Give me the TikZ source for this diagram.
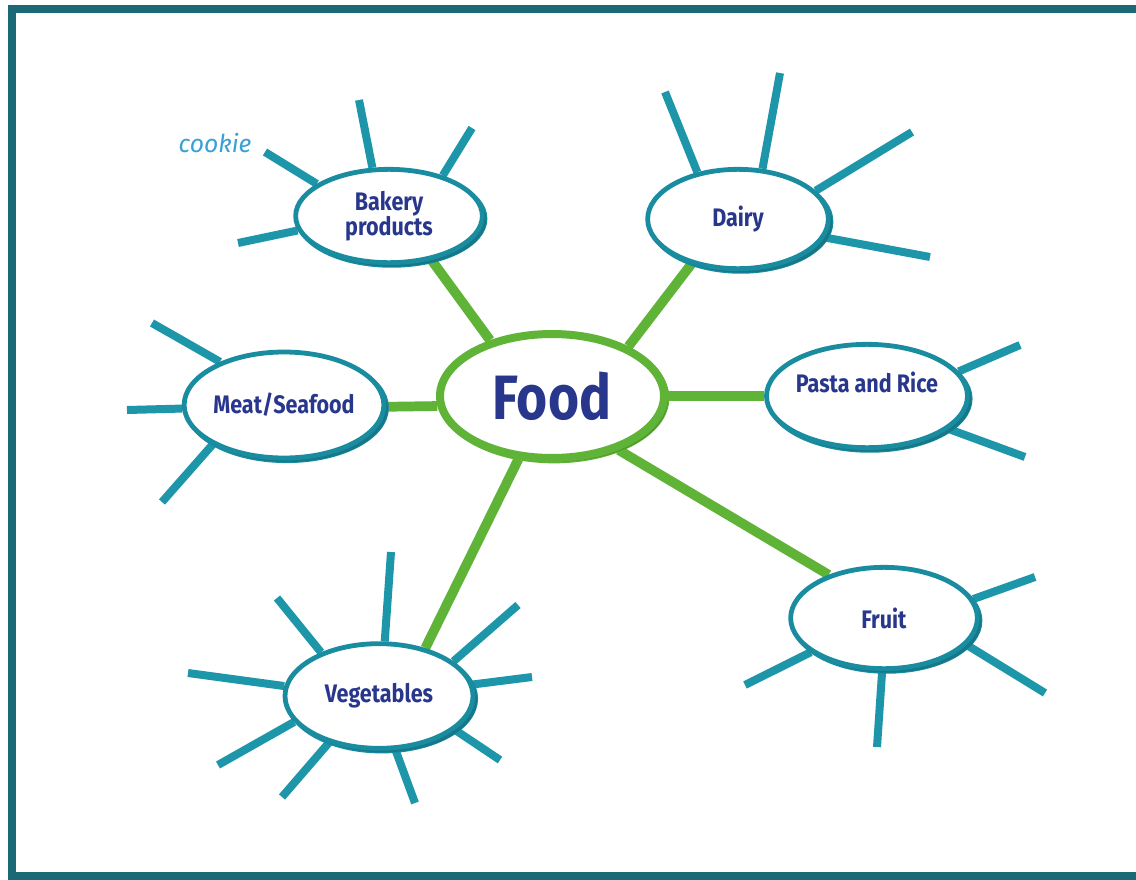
\documentclass[tikz,border=0pt]{standalone}
\usepackage{fontspec}
\setmainfont{Fira Sans}
\newfontfamily\labfont[FakeStretch=0.85]{Fira Sans}
\newfontfamily\cookiefont{Fira Sans}
\usetikzlibrary{shapes.geometric,shadows,backgrounds}
\definecolor{frameC}{RGB}{27,104,118}
\definecolor{spokeC}{RGB}{30,150,170}
\definecolor{rimC}{RGB}{25,140,160}
\definecolor{greenC}{RGB}{95,180,55}
\definecolor{navyC}{RGB}{40,55,140}
\definecolor{cookieC}{RGB}{55,160,215}
\tikzset{
  bubble/.style={ellipse, draw=rimC, line width=3.6pt, fill=white, text=navyC,
    font=\labfont\bfseries\fontsize{19}{19}\selectfont, align=center, inner sep=0pt,
    preaction={draw=rimC, line width=3.6pt, transform canvas={xshift=2pt,yshift=-2pt}},
    drop shadow={shadow xshift=3pt, shadow yshift=-3pt, opacity=0.15, fill=black}},
  hub/.style={ellipse, draw=greenC, line width=6pt, fill=white, text=navyC,
    font=\labfont\bfseries\fontsize{47}{47}\selectfont, inner sep=0pt,
    preaction={draw=greenC, line width=5pt, transform canvas={xshift=1.5pt,yshift=-1.5pt}},
    drop shadow={shadow xshift=3pt, shadow yshift=-3pt, opacity=0.15, fill=black}},
  spoke/.style={draw=spokeC, line width=6pt},
  link/.style={draw=greenC, line width=7.3pt},
  frame/.style={draw=frameC, line width=6pt},
  cookietext/.style={text=cookieC, font=\cookiefont\itshape\fontsize{18.5}{18.5}\selectfont, inner sep=0pt}
}
\begin{document}
\begin{tikzpicture}[x=0.75pt,y=-0.75pt]
\useasboundingbox (0,0) rectangle (1136,879);

\node[hub, minimum width=168pt, minimum height=93pt] (food) at (552,396) {Food};
\node[bubble, minimum width=140pt, minimum height=70pt] (bak) at (389,216) {Bakery\\products};
\node[bubble, minimum width=135.5pt, minimum height=74.5pt] (dairy) at (738,219) {Dairy};
\node[bubble, minimum width=141pt, minimum height=79.5pt] (meat) at (284,405) {Meat/Seafood};
\node[bubble, minimum width=137pt, minimum height=77.5pt] (pasta) at (867,396) {\smash{\raisebox{3pt}{Pasta and Rice}}};
\node[bubble, minimum width=140pt, minimum height=76pt] (fruit) at (884,618) {Fruit};
\node[bubble, minimum width=141pt, minimum height=78.5pt] (veg) at (379,696) {Vegetables};
\node[cookietext] (cookie) at (215,143) {cookie};

\begin{pgfonlayer}{background}
\fill[white] (0,0) rectangle (1136,879);
\draw[frame] (1136,9) -- (12,9) -- (12,876) -- (1136,876);
\draw[link] (food.138) -- (bak.-46);
\draw[link] (food.33) -- (dairy.224);
\draw[link] (food.185) -- (meat.-1);
\draw[link] (food.0) -- (pasta.180);
\draw[link] (food.-39) -- (fruit.142);
\draw[link] (food.242) -- (veg.46);
\foreach \n/\a/\x/\y [count=\i] in {
  bak/156/265/152, bak/109/359/100, bak/37/472/128, bak/189/238/243,
  dairy/131/665/92, dairy/64/780/73, dairy/20/912/132, dairy/-12/930/257,
  meat/146/152/323, meat/182/127/410, meat/209/162/502,
  pasta/15/1020/345, pasta/-22/1025/457,
  fruit/12/1035/577, fruit/-18/1045/693, fruit/-92/877/747, fruit/205/745/685,
  veg/84/391/552, veg/143/277/598, veg/174/188/673, veg/197/218/765, veg/223/282/797,
  veg/-73/415/803, veg/-24/500/760, veg/7/532/677, veg/25/518/605} {
  \coordinate (s\i) at (\x,\y);
  \draw[spoke] (\n.\a) -- (s\i);
}
\end{pgfonlayer}
\end{tikzpicture}
\end{document}
